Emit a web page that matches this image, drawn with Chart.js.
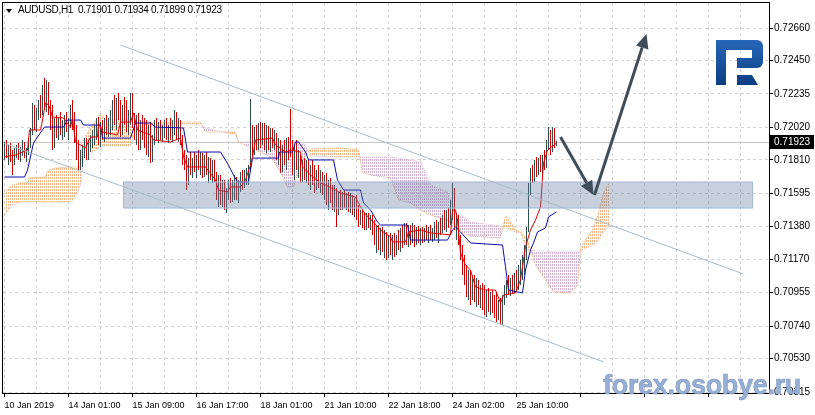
<!DOCTYPE html>
<html><head><meta charset="utf-8">
<script src="https://cdn.jsdelivr.net/npm/chart.js@4.4.0/dist/chart.umd.min.js"></script>
<style>
html,body{margin:0;padding:0;background:#fff;}
#wrap{position:relative;width:815px;height:415px;overflow:hidden;background:#fff;}
canvas{position:absolute;left:0;top:0;}
#tri{position:absolute;left:6px;top:9px;width:0;height:0;border-left:3.5px solid transparent;border-right:3.5px solid transparent;border-top:4px solid #000;}
#title{position:absolute;left:18px;top:5px;font-family:'Liberation Sans',Arial,sans-serif;font-size:10px;line-height:10px;letter-spacing:-0.3px;white-space:pre;color:#000;}
#wm{position:absolute;left:603px;top:372px;font-family:'Liberation Sans',Arial,sans-serif;font-weight:bold;font-size:27px;line-height:27px;letter-spacing:-0.3px;color:#98AFD5;-webkit-text-stroke:0.6px #7D99C6;white-space:pre;}
</style></head>
<body><div id="wrap"><canvas id="c" width="815" height="415"></canvas><div id="tri"></div><div id="title"></div><div id="wm">forex.osobye.ru</div></div>
<script>
// ---------------- DATA (prices in units of 0.00001) ----------------
const SYMBOL = 'AUDUSD,H1';
const PRICE_UNIT = 1e-5;

const barOpen = [
71874,71887,71842,71874,71822,71810,71861,71874,71842,71861,
71906,71842,71874,71926,71990,72132,72035,72119,72164,72119,
72260,72196,72228,72144,72035,71906,72054,72003,72067,72003,
72035,72067,72016,72054,72132,72035,71938,71842,71777,71822,
71874,71906,71842,71906,71938,71971,72003,72035,71938,72016,
71971,72054,72003,72035,72099,72164,72067,72144,72099,72003,
72119,72080,72016,72099,72196,72035,71971,72035,71906,72016,
71971,71926,71874,72003,71822,71938,72035,71971,72016,71958,
72003,72035,71971,72016,71990,72035,72067,71971,72016,71938,
71810,71777,71681,71797,71745,71810,71758,71822,71777,71810,
71745,71822,71732,71777,71713,71758,71694,71584,71681,71552,
71649,71520,71604,71649,71565,71649,71681,71584,71629,71694,
71649,71713,71732,71745,72003,71874,71971,71906,72003,71938,
72016,71906,71990,71906,71971,71926,71958,71842,71906,71758,
71874,71810,71906,72035,71874,71777,71874,71777,71810,71694,
71777,71713,71745,71681,71745,71694,71649,71713,71662,71694,
71616,71649,71565,71616,71584,71552,71616,71488,71565,71520,
71584,71533,71565,71520,71552,71488,71533,71455,71410,71455,
71423,71391,71436,71391,71423,71359,71294,71346,71262,71327,
71243,71307,71230,71282,71243,71294,71217,71294,71262,71327,
71294,71359,71294,71346,71307,71372,71294,71346,71307,71340,
71294,71346,71320,71359,71314,71346,71372,71327,71385,71359,
71423,71391,71455,71423,71520,71616,71391,71436,71294,71198,
71114,71037,70985,71069,70940,71005,70940,71005,70921,70972,
70908,70876,70940,70856,70908,70876,70844,70811,70876,70779,
70908,70972,71005,70972,71024,70985,71037,71005,71088,71114,
71153,71230,71359,71616,71732,71694,71777,71745,71797,71758,
71810,71777,71906,71971,71874,71971,71901];

const barHigh = [
71926,71938,71906,71919,71874,71887,71906,71919,71893,71938,
71926,71887,71951,72016,72177,72164,72144,72196,72228,72293,
72338,72325,72312,72196,72164,72080,72099,72087,72119,72067,
72099,72119,72080,72164,72196,72119,72035,71938,71874,71906,
71951,71951,71938,71971,72003,72035,72080,72087,72054,72067,
72080,72099,72080,72132,72196,72228,72209,72241,72196,72164,
72215,72196,72132,72241,72241,72112,72099,72112,72067,72099,
72080,72067,72035,72054,71971,72067,72080,72054,72067,72035,
72067,72080,72035,72080,72067,72132,72119,72080,72067,71971,
71874,71842,71822,71861,71822,71861,71842,71874,71861,71855,
71842,71861,71829,71822,71810,71810,71732,71713,71713,71681,
71681,71629,71681,71694,71681,71713,71700,71681,71732,71745,
71745,71758,71777,72202,72035,72022,72035,72048,72054,72048,
72048,72035,72029,72016,72016,72003,71984,71951,71938,71906,
71938,71951,71958,72138,71938,71906,71938,71874,71842,71810,
71822,71810,71810,71777,71810,71777,71745,71777,71745,71732,
71713,71726,71681,71694,71649,71649,71629,71604,71616,71604,
71616,71597,71604,71597,71584,71565,71584,71520,71488,71488,
71468,71468,71468,71455,71455,71423,71391,71391,71372,71378,
71359,71346,71327,71340,71327,71340,71327,71359,71372,71391,
71404,71404,71391,71391,71404,71391,71378,71385,71372,71378,
71372,71391,71378,71391,71372,71410,71423,71410,71436,71455,
71488,71488,71500,71552,71662,71629,71468,71455,71327,71262,
71198,71133,71101,71101,71069,71069,71050,71037,71005,71017,
71005,70972,70985,70960,70972,70940,70953,70908,70921,70940,
71005,71037,71069,71050,71069,71082,71101,71133,71166,71198,
71262,71378,71662,71758,71777,71810,71829,71822,71842,71842,
71874,71938,72022,72003,72022,72016,71934];

const barLow = [
71810,71822,71777,71797,71713,71777,71822,71810,71797,71835,
71822,71797,71842,71887,71971,72003,71990,72067,72080,72099,
72132,72119,72099,72003,71874,71887,71951,71938,71971,71938,
71958,71990,71938,72016,72003,71919,71810,71745,71745,71765,
71822,71810,71810,71861,71887,71906,71938,71906,71893,71938,
71926,71971,71958,71971,72003,72035,72003,72067,71958,71971,
72035,71990,71971,72035,72016,71938,71906,71874,71874,71938,
71887,71842,71829,71790,71797,71906,71938,71919,71938,71926,
71951,71938,71919,71938,71926,71971,71938,71926,71906,71777,
71745,71616,71649,71713,71694,71732,71694,71745,71713,71694,
71700,71713,71662,71681,71662,71668,71552,71507,71520,71507,
71488,71468,71552,71533,71539,71552,71552,71533,71604,71616,
71629,71649,71649,71732,71829,71842,71874,71874,71887,71906,
71874,71855,71874,71861,71887,71874,71810,71777,71726,71732,
71777,71745,71810,71829,71713,71681,71745,71694,71662,71668,
71681,71662,71649,71616,71649,71597,71616,71629,71597,71584,
71552,71520,71488,71533,71488,71475,71378,71455,71488,71488,
71500,71488,71475,71468,71455,71443,71423,71378,71391,71372,
71359,71359,71372,71359,71327,71262,71211,71230,71198,71217,
71179,71166,71179,71198,71166,71185,71198,71230,71217,71243,
71262,71262,71249,71262,71275,71249,71262,71275,71262,71275,
71282,71294,71275,71294,71282,71294,71307,71275,71327,71340,
71359,71346,71372,71391,71423,71359,71294,71262,71166,71069,
71005,70927,70908,70876,70908,70895,70863,70876,70856,70844,
70811,70799,70831,70811,70824,70792,70766,70779,70747,70747,
70876,70921,70940,70934,70953,70953,70972,70972,71005,71037,
71069,71166,71346,71584,71662,71668,71700,71713,71732,71700,
71745,71758,71874,71842,71861,71887,71899];

const barClose = [
71887,71842,71874,71822,71810,71861,71874,71842,71861,71906,
71842,71874,71926,71990,72132,72035,72119,72164,72119,72260,
72196,72228,72144,72035,71906,72054,72003,72067,72003,72035,
72067,72016,72054,72132,72035,71938,71842,71777,71822,71874,
71906,71842,71906,71938,71971,72003,72035,71938,72016,71971,
72054,72003,72035,72099,72164,72067,72144,72099,72003,72119,
72080,72016,72099,72196,72035,71971,72035,71906,72016,71971,
71926,71874,72003,71822,71938,72035,71971,72016,71958,72003,
72035,71971,72016,71990,72035,72067,71971,72016,71938,71810,
71777,71681,71797,71745,71810,71758,71822,71777,71810,71745,
71822,71732,71777,71713,71758,71694,71584,71681,71552,71649,
71520,71604,71649,71565,71649,71681,71584,71629,71694,71649,
71713,71732,71745,72003,71874,71971,71906,72003,71938,72016,
71906,71990,71906,71971,71926,71958,71842,71906,71758,71874,
71810,71906,71842,71874,71777,71874,71777,71810,71694,71777,
71713,71745,71681,71745,71694,71649,71713,71662,71694,71616,
71649,71565,71616,71584,71552,71616,71488,71565,71520,71584,
71533,71565,71520,71552,71488,71533,71455,71410,71455,71423,
71391,71436,71391,71423,71359,71294,71346,71262,71327,71243,
71307,71230,71282,71243,71294,71217,71294,71262,71327,71294,
71359,71294,71346,71307,71372,71294,71346,71307,71340,71294,
71346,71320,71359,71314,71346,71372,71327,71385,71359,71423,
71391,71455,71423,71520,71616,71391,71436,71294,71198,71114,
71037,70985,71069,70940,71005,70940,71005,70921,70972,70908,
70876,70940,70856,70908,70876,70844,70811,70876,70779,70908,
70972,71005,70972,71024,70985,71037,71005,71088,71114,71153,
71230,71359,71616,71732,71694,71777,71745,71797,71758,71810,
71777,71906,71971,71874,71971,71906,71923];

// Ichimoku Tenkan-sen (bar index, price)
const tenkanIdx = [0,5.5,9,11.5,12.5,18,19,20.5,22,23,24,29.5,31,33,34,35.5,40.5,43,46.5,47,49,56.5,58,63,64.5,66.5,73,74.5,83,88,89.5,91.5,100.5,105.5,107,111.5,113,118,120.5,123,124,125.5,134,135.5,140.5,143,148,149,153,158,160.5,165.5,168,175.5,178,181.5,184.5,188,193,194,200.5,202,208,213,223,224,225.5,226.5,228,230.5,233,235.5,240.5,245.5,248,249.5,255.5,258,260.5,263,265.5,268,269.5,271.5,276];
const tenkanVal = [71829,71842,71861,71874,72003,72003,72067,72177,72164,72132,72087,72080,72054,72022,72074,71926,71887,71958,71958,72048,71990,71971,72054,72054,72112,72003,71971,71938,71926,71951,71829,71765,71765,71681,71616,71604,71636,71636,71681,71777,71829,71938,71951,71906,71861,71874,71861,71765,71713,71662,71649,71616,71597,71571,71507,71443,71410,71359,71314,71282,71282,71346,71359,71340,71327,71488,71488,71423,71211,71133,71101,70992,70972,70972,70889,70940,70953,71037,71249,71359,71423,71507,71790,71874,71919];

// Ichimoku Kijun-sen
const kijunIdx = [0,10,11.5,14.5,16.5,20,29.5,31.5,38,39.5,48,49,63,65.5,73,75.5,89.5,91.5,108,112,114.5,116.5,122,123,124,137,137.5,144,145.5,147,150.5,152,164.5,166.5,169.5,178,179.5,183,186.5,188,201.5,203,221.5,224,225.5,228,233,249,250.5,252,259,260.5,263,264.5,266.5,270.5,272,276];
const kijunVal = [71700,71700,71745,71919,71958,72022,72022,72067,72067,72035,72035,71951,71951,72048,72048,72022,72016,71861,71861,71777,71713,71668,71668,71745,71822,71822,71861,71861,71926,71926,71861,71810,71810,71681,71616,71616,71533,71488,71410,71391,71391,71294,71294,71359,71378,71346,71275,71262,71121,70972,70953,71101,71230,71275,71346,71372,71443,71475];

// Ichimoku cloud (Senkou Span A / B), shifted forward
const cloudIdx = [0,4,8,11.5,12,20.5,21.5,25.5,33,35.5,38,39.5,44,48,50.5,63,65.5,68,73,88,98,100.5,115.5,117,118,125.5,133,138,141.5,144.5,148,150.5,153,168,177,179,183,193,197,203,208,213,221.5,225.5,228,233,248,250.5,253,255.5,258,261.5,265.5,270.5,274.5,283,286.5,288,294.5,297,299.5,302.5];
const senkouA = [71604,71649,71662,71662,71694,71700,71739,71758,71765,71765,71765,71938,72035,72106,72074,72067,72048,72048,72048,72054,72054,71990,71990,71926,71919,71874,71829,71732,71636,71636,71777,71842,71880,71887,71874,71732,71713,71694,71552,71533,71488,71455,71423,71391,71346,71320,71307,71449,71410,71359,71346,71294,71133,71037,70960,70953,71005,71243,71372,71468,71597,71668];
const senkouB = [71455,71520,71539,71539,71539,71539,71539,71539,71539,71571,71649,71810,71861,71893,71900,71900,72003,72035,72035,72041,72041,72016,71971,71926,71926,71926,71926,71926,71926,71926,71926,71906,71835,71829,71829,71829,71829,71829,71822,71810,71797,71649,71604,71468,71455,71410,71385,71372,71359,71346,71340,71230,71224,71224,71217,71217,71217,71224,71262,71294,71346,71391];

// Drawn objects (bar index, price)
const channelUpper = [[58,72550],[369.5,71075]];
const channelLower = [[-2,71926],[299.5,70509]];
const zoneIdx = [59.5,374];
const zonePrice = [71668,71500];
const arrowDown = [[278,71958],[294.5,71584]];
const arrowUp = [[295,71584],[321,72621]];

// Axes
const xTickLabels = ['10 Jan 2019','14 Jan 01:00','15 Jan 09:00','16 Jan 17:00','18 Jan 01:00','21 Jan 10:00','22 Jan 18:00','24 Jan 02:00','25 Jan 10:00'];
const xGridIdx = [0,16,32,48,64,80,96,112,128,144,160,176,192,208,224,240,256,272,288,304,320,336,352,368];
const yTickValues = [0.70315,0.70530,0.70740,0.70955,0.71170,0.71380,0.71595,0.71810,0.72020,0.72235,0.72450,0.72660];
const X_MIN = -0.75, X_MAX = 382.25;
const Y_MIN = 0.703086, Y_MAX = 0.728211;

// ---------------- BUILD ----------------
const P = v => v * PRICE_UNIT;
const pts = (xs, ys) => xs.map((x, k) => ({x: x, y: P(ys[k])}));
const pairPts = arr => arr.map(a => ({x: a[0], y: P(a[1])}));
const last = barClose.length - 1;
const fmt = v => P(v).toFixed(5);
document.getElementById('title').textContent =
  SYMBOL + '  ' + fmt(barOpen[last]) + ' ' + fmt(barHigh[last]) + ' ' + fmt(barLow[last]) + ' ' + fmt(barClose[last]);

const BULL = '#2F4F4F', BEAR = '#D40000';
function hatch(color) {
  const c = document.createElement('canvas'); c.width = 2; c.height = 3;
  const g = c.getContext('2d'); g.fillStyle = color; g.fillRect(0, 0, 1, 2);
  return g.createPattern(c, 'repeat');
}
const sandyPat = hatch('#F0B480');
const thistlePat = hatch('#D2AED2');

const datasets = [];
const add = d => { datasets.push(d); return datasets.length - 1; };
const lineBase = {type: 'line', pointRadius: 0, pointHoverRadius: 0, tension: 0, fill: false, borderWidth: 1};

add(Object.assign({}, lineBase, {label: 'channelU', data: pairPts(channelUpper), borderColor: '#A6BDCA', order: 0}));
add(Object.assign({}, lineBase, {label: 'channelL', data: pairPts(channelLower), borderColor: '#A6BDCA', order: 0}));
add(Object.assign({}, lineBase, {label: 'zoneOutline', data: [
  {x: zoneIdx[0], y: P(zonePrice[0])}, {x: zoneIdx[1], y: P(zonePrice[0])},
  {x: zoneIdx[1], y: P(zonePrice[1])}, {x: zoneIdx[0], y: P(zonePrice[1])},
  {x: zoneIdx[0], y: P(zonePrice[0])}], borderColor: '#A2B8D6', order: 1}));
const zTop = add(Object.assign({}, lineBase, {label: 'zoneTop', data: [{x: zoneIdx[0], y: P(zonePrice[0])}, {x: zoneIdx[1], y: P(zonePrice[0])}], borderColor: 'rgba(0,0,0,0)', order: 3}));
add(Object.assign({}, lineBase, {label: 'zoneBottom', data: [{x: zoneIdx[0], y: P(zonePrice[1])}, {x: zoneIdx[1], y: P(zonePrice[1])}], borderColor: 'rgba(0,0,0,0)', fill: {target: zTop}, backgroundColor: 'rgba(100,125,158,0.36)', order: 2}));
add(Object.assign({}, lineBase, {label: 'tenkan', data: pts(tenkanIdx, tenkanVal), borderColor: '#E00000', order: 4}));
add(Object.assign({}, lineBase, {label: 'kijun', data: pts(kijunIdx, kijunVal), borderColor: '#0A0AAA', order: 5}));
add({type: 'bar', label: 'bars', data: barHigh.map((h, i) => ({x: i, y: [P(barLow[i]), P(h)]})),
  backgroundColor: barClose.map((c, i) => c >= barOpen[i] ? BULL : BEAR),
  barThickness: 1, inflateAmount: 0, borderWidth: 0, grouped: false, order: 6});
const idxB = datasets.length + 1;
add(Object.assign({}, lineBase, {label: 'senkouA', data: pts(cloudIdx, senkouA), borderColor: '#F4A460', borderDash: [1, 1],
  fill: {target: idxB, above: sandyPat, below: thistlePat}, order: 7}));
add(Object.assign({}, lineBase, {label: 'senkouB', data: pts(cloudIdx, senkouB), borderColor: '#D8BFD8', borderDash: [1, 1], order: 8}));

function arrow(ctx, x1, y1, x2, y2) {
  const a = Math.atan2(y2 - y1, x2 - x1), L = 14, W = 6.5;
  const bx = x2 - L * Math.cos(a), by = y2 - L * Math.sin(a);
  ctx.beginPath(); ctx.moveTo(x1, y1); ctx.lineTo(bx, by); ctx.stroke();
  ctx.beginPath(); ctx.moveTo(x2, y2);
  ctx.lineTo(bx + W * Math.sin(a), by - W * Math.cos(a));
  ctx.lineTo(bx - W * Math.sin(a), by + W * Math.cos(a));
  ctx.closePath(); ctx.fill();
}

const overlay = {
  id: 'overlay',
  beforeDatasetsDraw(chart) {
    const {ctx, chartArea: a, scales: {y}} = chart;
    const py = Math.round(y.getPixelForValue(P(barClose[last]))) + 0.5;
    ctx.save(); ctx.strokeStyle = '#C6C6C6'; ctx.lineWidth = 1;
    ctx.beginPath(); ctx.moveTo(a.left, py); ctx.lineTo(a.right, py); ctx.stroke(); ctx.restore();
  },
  afterDatasetsDraw(chart) {
    const {ctx, chartArea: a, scales: {x, y}} = chart;
    ctx.save();
    ctx.beginPath(); ctx.rect(a.left, a.top, a.width, a.height); ctx.clip();
    ctx.strokeStyle = '#3E4D59'; ctx.fillStyle = '#3E4D59'; ctx.lineWidth = 3; ctx.lineCap = 'butt';
    [arrowDown, arrowUp].forEach(p => arrow(ctx,
      x.getPixelForValue(p[0][0]), y.getPixelForValue(P(p[0][1])),
      x.getPixelForValue(p[1][0]), y.getPixelForValue(P(p[1][1]))));
    // logo
    const L = a.right - 53, T = a.top + 37;
    const g = ctx.createLinearGradient(0, T, 0, T + 45);
    g.addColorStop(0, '#2767B8'); g.addColorStop(1, '#0C3D82');
    ctx.fillStyle = g;
    ctx.beginPath();
    ctx.moveTo(L, T); ctx.lineTo(L + 41, T); ctx.arcTo(L + 47, T, L + 47, T + 6, 6);
    ctx.lineTo(L + 47, T + 22); ctx.arcTo(L + 47, T + 28, L + 41, T + 28, 6);
    ctx.lineTo(L + 21, T + 28); ctx.lineTo(L + 21, T + 18); ctx.lineTo(L + 36, T + 18);
    ctx.lineTo(L + 36, T + 10); ctx.lineTo(L + 10, T + 10); ctx.lineTo(L + 10, T + 45);
    ctx.lineTo(L, T + 45); ctx.closePath(); ctx.fill();
    ctx.beginPath(); ctx.moveTo(L + 21, T + 35); ctx.lineTo(L + 36, T + 35); ctx.lineTo(L + 42, T + 45);
    ctx.lineTo(L + 21, T + 45); ctx.closePath(); ctx.fill();
    ctx.restore();
  },
  afterDraw(chart) {
    const {ctx, chartArea: a, scales: {y}} = chart;
    ctx.save();
    ctx.strokeStyle = '#000'; ctx.lineWidth = 1;
    ctx.strokeRect(a.left - 0.5, a.top - 0.5, a.width + 1, a.height + 1);
    const py = y.getPixelForValue(P(barClose[last]));
    ctx.fillStyle = '#000'; ctx.fillRect(a.right + 1, Math.round(py) - 7, 44, 14);
    ctx.fillStyle = '#fff'; ctx.font = '10px "Liberation Sans", Arial, sans-serif';
    ctx.textBaseline = 'middle'; ctx.textAlign = 'left';
    ctx.fillText(fmt(barClose[last]), a.right + 5, Math.round(py) + 0.5);
    ctx.restore();
  }
};

const GRID = '#D2D2D2';
new Chart(document.getElementById('c'), {
  type: 'line',
  data: {datasets},
  options: {
    responsive: false, animation: false, devicePixelRatio: 1, events: [],
    layout: {padding: {left: 3, top: 3, right: 0, bottom: 0}},
    plugins: {legend: {display: false}, tooltip: {enabled: false}, filler: {propagate: false}},
    scales: {
      x: {
        type: 'linear', position: 'bottom', min: X_MIN, max: X_MAX, offset: false,
        afterBuildTicks: s => { s.ticks = xGridIdx.map(v => ({value: v})); },
        afterFit: s => { s.height = 22; s.paddingLeft = 0; s.paddingRight = 0; },
        grid: {color: GRID, lineWidth: 1, drawTicks: true, tickLength: 4, offset: false,
          tickColor: c => (c.index % 2 === 0 ? '#000' : 'rgba(0,0,0,0)')},
        border: {display: false, dash: [3, 3]},
        ticks: {autoSkip: false, maxRotation: 0, minRotation: 0, align: 'start', padding: 3, color: '#000',
          font: {family: 'Liberation Sans', size: 9},
          callback: (v, i) => (i % 2 === 0 && xTickLabels[i / 2] !== undefined) ? xTickLabels[i / 2] : ''}
      },
      y: {
        type: 'linear', position: 'right', min: Y_MIN, max: Y_MAX,
        afterBuildTicks: s => { s.ticks = yTickValues.map(v => ({value: v})); },
        afterFit: s => { s.width = 46; s.paddingTop = 0; s.paddingBottom = 0; },
        grid: {color: GRID, lineWidth: 1, drawTicks: true, tickLength: 4, tickColor: '#000'},
        border: {display: false, dash: [3, 3]},
        ticks: {autoSkip: false, padding: 1, color: '#000', font: {family: 'Liberation Sans', size: 10},
          callback: v => v.toFixed(5)}
      }
    }
  },
  plugins: [overlay]
});
</script></body></html>
